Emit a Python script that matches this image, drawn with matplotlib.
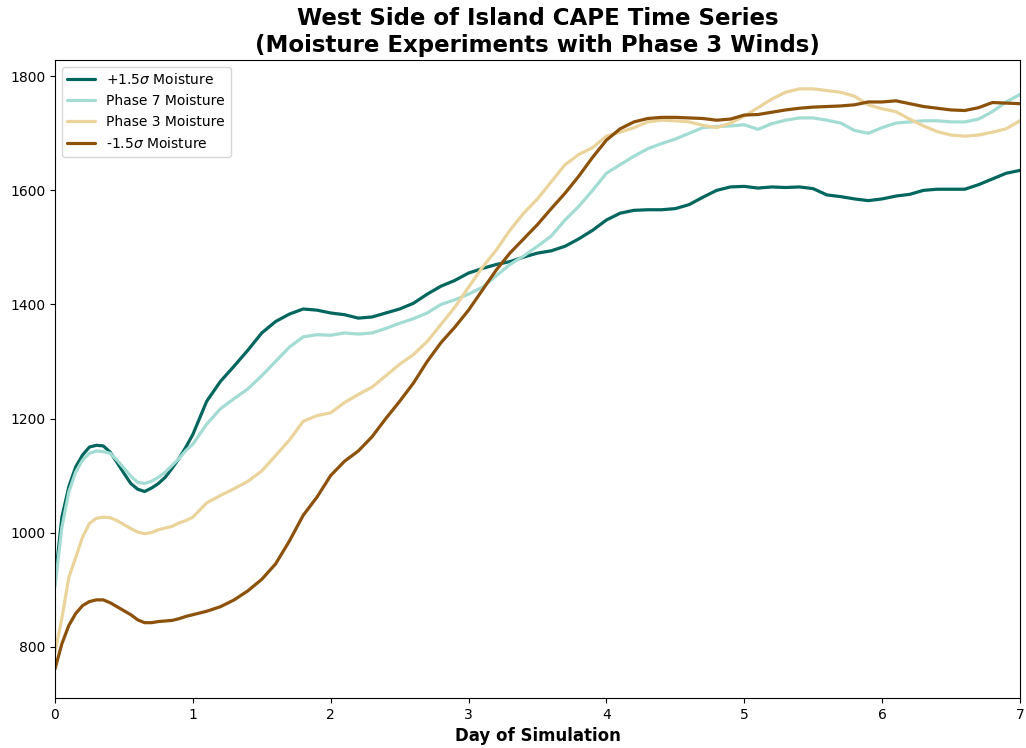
import numpy as np
import matplotlib
matplotlib.use("Agg")
import matplotlib.pyplot as plt

# Tempo (dias de simulacao): passo de 0.05 no primeiro dia, 0.1 depois
dias = np.round(np.concatenate([np.arange(0, 20) * 0.05, np.arange(10, 71) * 0.1]), 2)

cape_mais15 = [
    915, 1027, 1080, 1115, 1136, 1150, 1153, 1152, 1141, 1123,
    1104, 1086, 1076, 1072, 1078, 1086, 1097, 1113, 1130, 1150,
    1172, 1230, 1265, 1292, 1320, 1350, 1370, 1383, 1392, 1390,
    1385, 1382, 1376, 1378, 1385, 1392, 1402, 1418, 1432, 1442,
    1455, 1463, 1470, 1475, 1483, 1490, 1494, 1502, 1515, 1530,
    1548, 1560, 1565, 1566, 1566, 1568, 1575, 1588, 1600, 1606,
    1607, 1604, 1606, 1605, 1606, 1603, 1592, 1589, 1585, 1582,
    1585, 1590, 1593, 1600, 1602, 1602, 1602, 1610, 1620, 1630,
    1635,
]
cape_fase7 = [
    905, 1009, 1071, 1106, 1127, 1139, 1143, 1142, 1139, 1127,
    1113, 1099, 1088, 1086, 1090, 1097, 1106, 1118, 1130, 1144,
    1155, 1190, 1217, 1235, 1252, 1275, 1300, 1325, 1343, 1347,
    1346, 1350, 1348, 1350, 1358, 1367, 1375, 1385, 1400, 1408,
    1418, 1430, 1450, 1470, 1485, 1502, 1520, 1548, 1572, 1600,
    1630, 1645, 1660, 1673, 1682, 1690, 1700, 1710, 1712, 1713,
    1715, 1707, 1717, 1723, 1727, 1727, 1723, 1718, 1705, 1700,
    1710, 1718, 1720, 1722, 1722, 1720, 1720, 1725, 1738, 1755,
    1768,
]
cape_fase3 = [
    790, 850, 921, 956, 992, 1016, 1025, 1027, 1026, 1021,
    1014, 1007, 1001, 998, 1000, 1005, 1008, 1011, 1017, 1021,
    1027, 1052, 1065, 1077, 1090, 1108, 1135, 1162, 1195, 1205,
    1210, 1228, 1242, 1255, 1275, 1295, 1312, 1335, 1365, 1395,
    1430, 1465, 1495, 1530, 1560, 1585, 1615, 1645, 1663, 1675,
    1695, 1702, 1710, 1720, 1723, 1722, 1720, 1714, 1710, 1718,
    1730, 1745, 1760, 1772, 1778, 1778, 1775, 1772, 1765, 1750,
    1743, 1738, 1725, 1713, 1703, 1697, 1695, 1697, 1702, 1708,
    1722,
]
cape_menos15 = [
    761, 805, 837, 858, 872, 879, 882, 882, 877, 870,
    863, 856, 847, 842, 842, 844, 845, 846, 849, 853,
    856, 862, 870, 882, 898, 918, 945, 985, 1030, 1062,
    1100, 1125, 1143, 1168, 1200, 1230, 1262, 1300, 1333, 1360,
    1390, 1425, 1460, 1490, 1515, 1540, 1568, 1595, 1625, 1658,
    1688, 1708, 1720, 1726, 1728, 1728, 1727, 1726, 1723, 1725,
    1732, 1733, 1737, 1741, 1744, 1746, 1747, 1748, 1750, 1755,
    1755, 1757, 1752, 1747, 1744, 1741, 1740, 1745, 1754, 1753,
    1752,
]

rotulos = [r'+1.5$\sigma$ Moisture', 'Phase 7 Moisture', 'Phase 3 Moisture', r'-1.5$\sigma$ Moisture']
cores = ['#01665e', '#a3dcd3', '#ead49c', '#8c510a']
series = [cape_mais15, cape_fase7, cape_fase3, cape_menos15]

fig = plt.figure(figsize=(10.26, 7.48), dpi=100)
ax = fig.add_axes([0.0536, 0.067, 0.9405, 0.853])

for valores, cor, rotulo in zip(series, cores, rotulos):
    ax.plot(dias, valores, color=cor, linewidth=2.3, label=rotulo,
            solid_joinstyle='round', solid_capstyle='round')

ax.set_xlim(0, 7)
ax.set_title('West Side of Island CAPE Time Series\n(Moisture Experiments with Phase 3 Winds)',
             fontsize=16.5, fontweight='bold')
ax.set_xlabel('Day of Simulation', fontsize=12, fontweight='bold')
ax.legend(loc='upper left', fontsize=10)

fig.savefig('out.png', dpi=100, facecolor='white')
